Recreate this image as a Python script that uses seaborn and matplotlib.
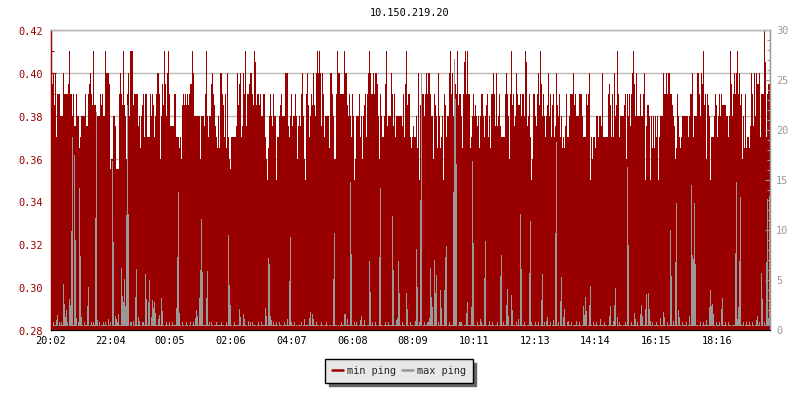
import numpy as np
import pandas as pd
import matplotlib
matplotlib.use("Agg")
import matplotlib.pyplot as plt
from matplotlib.lines import Line2D
from matplotlib.ticker import MultipleLocator
from matplotlib.transforms import ScaledTranslation
import seaborn as sns

title = "10.150.219.20"
tick_labels = ["20:02", "22:04", "00:05", "02:06", "04:07", "06:08",
               "08:09", "10:11", "12:13", "14:14", "16:15", "18:16"]
tick_samples = [0, 60, 120, 181, 242, 303, 363, 424, 485, 545, 606, 667]

# min ping per 2-minute sample, in microseconds
min_ping_us = [
400,395,400,385,400,370,390,390,390,380,380,380,400,390,390,390,390,395,410,390,390,380,390,375,375,390,380,380,365,370,
380,380,380,380,390,375,375,390,395,400,390,385,410,385,385,380,380,380,380,390,385,390,380,380,410,400,400,400,395,355,
360,360,380,380,375,355,355,355,390,400,390,385,410,385,380,360,390,400,380,410,410,410,385,390,390,390,390,375,380,365,
380,385,390,370,390,390,370,370,370,390,380,390,385,370,380,390,400,400,390,360,380,395,385,410,395,380,400,410,390,375,
375,375,375,390,390,370,370,370,365,370,360,385,390,385,390,385,390,385,390,395,395,410,400,380,380,380,380,380,380,360,
380,380,380,375,390,410,380,370,380,380,395,400,390,385,375,370,365,380,365,400,400,390,385,370,390,365,400,370,360,
355,370,370,370,370,370,375,400,385,395,400,370,375,400,390,410,375,390,390,395,400,400,390,385,410,405,385,390,390,385,
390,380,380,390,390,370,360,350,365,380,390,380,375,390,380,380,350,370,370,380,385,390,380,380,380,400,400,400,375,370,
380,390,375,380,380,390,380,360,375,380,375,390,400,380,360,350,390,400,385,370,380,390,385,400,385,380,400,410,400,410,
400,375,400,390,370,380,380,380,380,365,400,400,390,380,360,360,390,410,400,400,390,390,390,390,410,400,400,385,380,390,
380,370,390,380,350,360,380,380,380,390,370,380,360,380,385,390,370,390,400,410,400,390,390,400,390,400,400,395,380,360,
390,380,370,370,380,395,410,375,380,380,380,400,390,375,390,370,380,380,380,380,380,380,375,390,370,395,410,385,390,390,
370,365,370,375,370,370,380,365,400,350,385,350,390,390,380,390,400,390,400,400,390,380,380,360,390,385,380,365,400,380,
365,370,380,350,390,385,370,380,380,400,410,390,400,380,360,395,390,410,385,390,390,380,365,390,405,410,390,410,390,390,
365,370,380,390,380,385,380,375,380,365,380,390,390,380,370,380,385,390,370,380,365,390,390,400,390,375,400,375,380,390,
375,370,370,370,370,390,400,390,380,360,390,410,385,390,375,380,400,390,385,385,390,380,390,390,380,410,405,375,380,390,
370,350,360,390,390,380,375,390,400,385,410,395,380,390,380,370,380,385,400,380,390,370,385,390,370,375,400,385,380,390,
370,380,365,370,365,375,390,370,370,380,390,390,390,400,385,390,380,380,380,390,390,390,380,370,370,370,390,385,390,400,
350,370,360,370,370,365,380,380,370,380,380,375,400,370,370,370,370,370,390,395,385,370,390,370,400,380,385,410,390,370,
380,380,380,380,385,390,360,390,380,390,375,390,400,410,395,380,400,380,380,380,390,380,380,390,400,350,375,385,385,380,
350,380,365,380,365,380,370,380,350,370,380,380,380,400,390,390,400,390,400,400,390,390,385,380,375,360,365,390,380,370,
365,370,380,380,380,380,380,380,370,380,390,390,400,370,380,380,380,400,400,390,380,400,395,410,385,390,360,390,385,380,
350,370,370,370,380,390,385,370,380,390,380,390,385,385,385,385,380,380,370,380,410,395,380,390,400,390,400,410,390,400,
385,390,360,380,365,390,365,370,370,365,375,400,390,375,400,380,400,395,395,400,370,390,390,390,420,405,370,390,395,395,
]

# max ping: resting level plus every sample that rises above it
max_ping_rest = 0.55
max_ping_samples = [
0,5,6,12,13,14,15,18,19,20,21,23,24,25,28,29,30,36,37,44,45,46,57,61,62,64,65,67,
70,71,72,73,74,75,76,77,82,84,85,87,88,94,95,97,98,100,101,102,103,104,107,108,110,111,
125,126,127,128,144,145,146,148,149,150,151,155,156,175,177,178,
179,188,189,192,193,197,214,215,217,218,219,220,236,238,239,240,253,258,259,261,262,
282,283,293,294,296,299,300,309,310,313,318,319,328,329,341,342,345,346,347,348,355,356,
364,365,366,368,369,370,377,378,379,380,381,383,384,385,389,390,393,394,395,
402,403,404,405,408,409,410,415,416,420,421,422,429,430,433,434,438,
449,450,455,456,457,460,461,467,469,470,478,479,480,490,491,495,496,502,504,505,
509,510,512,513,517,525,532,533,534,535,538,539,549,558,559,562,563,564,566,576,577,
583,584,589,590,591,594,595,597,598,599,609,612,613,619,620,622,624,625,627,628,
638,640,641,642,643,644,655,658,659,660,661,662,670,671,684,685,686,687,688,689,
705,706,710,711,715,716,717,718,
]
max_ping_values = [
0.8,1.0,1.5,4.6,2.6,1.3,2.0,3.1,2.5,9.9,19.3,17.5,9.0,1.2,14.2,7.4,1.3,2.4,4.3,11.2,21.8,1.0,1.1,16.9,8.8,1.4,1.1,1.6,
6.2,3.4,2.8,5.1,2.4,11.5,22.5,11.6,0.9,3.3,6.1,1.3,0.9,5.6,3.1,2.8,5.0,1.3,3.0,2.2,2.8,1.7,1.1,1.5,3.2,1.9,
2.2,7.3,13.8,1.7,1.2,2.0,1.4,3.2,6.0,11.1,5.8,3.2,5.9,0.8,9.5,4.5,
2.5,2.1,1.3,1.6,1.1,0.9,2.2,1.4,7.2,6.6,1.4,1.0,1.1,4.9,9.3,0.8,1.1,1.2,1.8,1.6,1.1,
5.1,9.7,1.6,1.6,1.1,14.8,7.6,1.0,1.4,1.0,6.9,3.8,7.3,14.2,11.4,6.0,1.0,1.2,6.9,3.7,3.7,2.1,
0.9,8.1,4.3,0.8,13.0,25.7,0.8,1.2,6.2,3.3,2.3,7.0,3.7,5.5,4.0,2.2,4.0,7.3,8.4,
13.8,27.1,23.1,16.6,0.8,0.8,0.8,1.7,2.8,2.3,16.9,8.7,1.1,0.8,5.2,8.9,0.9,
5.4,7.5,2.5,4.1,1.4,3.5,2.0,1.1,11.6,6.1,5.7,10.9,0.8,3.0,5.6,0.9,1.3,1.0,9.7,18.8,
2.9,5.3,1.3,2.1,0.9,0.9,2.4,1.5,3.3,1.9,2.5,4.4,1.1,1.4,2.4,0.9,2.5,4.2,1.3,16.3,8.5,
1.7,1.1,1.6,2.5,1.4,2.1,3.6,3.7,2.1,0.9,1.2,1.8,1.3,10.0,5.4,0.9,6.8,12.7,2.0,1.3,
1.4,14.5,7.5,7.1,12.7,6.6,1.0,2.3,4.0,2.4,2.6,1.6,2.1,3.2,7.7,14.8,1.1,2.3,6.9,13.3,
1.0,1.4,5.7,3.1,6.8,13.1,1.2,13.4,
]
# samples that sit one pixel above or below the resting level
max_ping_high_samples = [
2,8,10,16,27,33,40,42,48,52,54,59,66,79,80,91,92,115,118,121,131,135,139,142,158,160,165,170,
183,199,201,207,210,222,225,228,233,243,250,265,268,270,275,290,303,305,321,324,334,337,351,
359,373,376,387,398,412,426,441,446,452,465,473,484,487,493,499,507,516,520,528,542,545,
553,568,574,580,586,601,605,616,631,635,649,652,665,668,674,677,692,695,698,701,708,713,
]
max_ping_high = 0.85
max_ping_low_samples = [
1,7,17,26,32,38,47,49,56,60,78,81,90,99,113,119,130,133,137,140,159,162,173,181,190,196,200,
205,209,227,231,244,246,251,268,272,277,280,286,288,302,307,315,322,326,332,350,354,358,362,
371,386,396,406,412,425,436,443,447,458,464,475,482,488,494,500,508,515,521,530,536,541,547,
556,565,571,578,588,602,608,615,630,636,647,650,664,669,676,680,693,700,703,709,712,
]
max_ping_low = 0.4

RED = "#990000"
GRAY = "#999999"
GRID = "#BBBBBB"

sns.set_theme(style="white")
plt.rcParams["font.family"] = ["DejaVu Sans Mono"]
plt.rcParams["font.size"] = 7.4

samples = np.arange(len(min_ping_us))
min_ping = np.array(min_ping_us) / 1000.0
max_ping = np.full(len(samples), max_ping_rest)
max_ping[np.array(max_ping_high_samples)] = max_ping_high
max_ping[np.array(max_ping_low_samples)] = max_ping_low
max_ping[np.array(max_ping_samples)] = max_ping_values
df = pd.DataFrame({"sample": samples, "min_ping": min_ping, "max_ping": max_ping})

fig = plt.figure(figsize=(8, 4), dpi=100)
ax = fig.add_axes([51 / 800, 70 / 400, 719 / 800, 300 / 400])
ax.set_axisbelow(True)
sns.barplot(data=df, x="sample", y="min_ping", native_scale=True, width=1, color=RED,
            saturation=1, errorbar=None, linewidth=0, antialiased=False, ax=ax)
ax2 = ax.twinx()
sns.barplot(data=df, x="sample", y="max_ping", native_scale=True, width=1, color=GRAY,
            saturation=1, errorbar=None, linewidth=0, antialiased=False, ax=ax2)
ax2.axhspan(0, 0.43, facecolor=RED, linewidth=0, antialiased=False, zorder=5)

for a in (ax, ax2):
    a.set_xlim(-0.5, len(samples) - 0.5)
    a.set_xlabel("")
    a.set_ylabel("")
ax.set_ylim(0.28, 0.42)
ax2.set_ylim(0, 30)

ax.yaxis.set_major_locator(MultipleLocator(0.02))
ax.yaxis.set_minor_locator(MultipleLocator(0.01))
ax.yaxis.set_major_formatter(lambda v, _: f"{v:.2f}")
ax.yaxis.grid(True, which="major", color=GRID, linewidth=1.0)
ax.xaxis.grid(False)
ax2.grid(False)
ax2.yaxis.set_major_locator(MultipleLocator(5))
ax2.yaxis.set_minor_locator(MultipleLocator(1))
ax2.yaxis.set_major_formatter(lambda v, _: f"{v:.0f}")

# the time axis is drawn on the upper axes, so its ticks sit above the bars
ax.tick_params(axis="x", which="both", bottom=False, labelbottom=False)
ax2.xaxis.set_visible(True)
ax2.set_xticks(tick_samples)
ax2.set_xticklabels(tick_labels)
ax2.tick_params(axis="x", which="major", direction="in", length=3.2, width=0.8, color="black",
                labelcolor="black", labelsize=7.4, pad=4.6, bottom=True, labelbottom=True, top=False)
ax.tick_params(axis="y", which="major", direction="in", length=3.6, width=0.8, color=RED,
               labelcolor=RED, labelsize=7.4, pad=5.5, left=True)
ax.tick_params(axis="y", which="minor", direction="in", length=2.2, width=0.8, color=RED, left=True)
ax2.tick_params(axis="y", which="major", direction="in", length=3.6, width=0.8, color=GRAY,
                labelcolor=GRAY, labelsize=7.4, pad=4.5, right=True)
ax2.tick_params(axis="y", which="minor", direction="in", length=2.2, width=0.8, color=GRAY, right=True)

shift_x = ScaledTranslation(-1.5 / 100, 0, fig.dpi_scale_trans)
for lab in ax2.get_xticklabels():
    lab.set_transform(lab.get_transform() + shift_x)
shift_y = ScaledTranslation(0, -1 / 100, fig.dpi_scale_trans)
for lab in ax.get_yticklabels():
    lab.set_transform(lab.get_transform() + shift_y)

for a in (ax, ax2):
    a.spines["top"].set_color(GRID)
    a.spines["top"].set_linewidth(1.0)
    a.spines["left"].set_color(RED)
    a.spines["left"].set_linewidth(0.9)
    a.spines["right"].set_color(GRAY)
    a.spines["right"].set_linewidth(0.9)
    a.spines["bottom"].set_color("black")
    a.spines["bottom"].set_linewidth(0.8)
    for s in a.spines.values():
        s.set_zorder(10)
        s.set_visible(True)

fig.text(410 / 800, 1 - 12.5 / 400, title, ha="center", va="center", color="black", fontsize=7.4)

handles = [Line2D([], [], color=RED, linewidth=1.8, label="min ping"),
           Line2D([], [], color=GRAY, linewidth=1.8, label="max ping")]
leg = ax2.legend(handles=handles, ncol=2, loc="center",
                 bbox_to_anchor=(399 / 800, 1 - 371 / 400), bbox_transform=fig.transFigure,
                 fancybox=False, framealpha=1, facecolor="#E8E8E8", edgecolor="black",
                 prop={"size": 7.4}, handlelength=1.1, handletextpad=0.4, columnspacing=0.5,
                 borderpad=0.65, borderaxespad=0,
                 shadow={"ox": 2.4, "oy": -2.4, "facecolor": "#666666", "edgecolor": "#666666", "alpha": 1})
leg.get_frame().set_linewidth(1.0)
leg.set_zorder(20)

fig.savefig("out.png", dpi=100)
